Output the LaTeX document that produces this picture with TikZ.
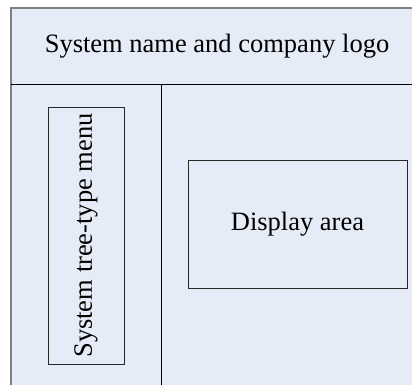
\documentclass[tikz,border=0pt]{standalone}
\usepackage{fontspec}
\setmainfont{LiberationSerif}[Extension=.ttf, UprightFont=*-Regular]
\definecolor{panelfill}{RGB}{230,236,247}
\definecolor{framegray}{RGB}{128,128,128}
\definecolor{boxline}{RGB}{40,40,40}
\begin{document}
\begin{tikzpicture}[x=1pt,y=1pt,
  lbl/.style={font=\rmfamily\fontsize{26.5}{30}\selectfont, inner sep=0pt},
  panelbox/.style={draw=boxline, line width=0.9pt, inner sep=0pt, lbl}]
\useasboundingbox (0,0) rectangle (412,-385);
\fill[panelfill] (11,-8) rectangle (412,-385);
\draw[framegray, line width=1.2pt] (412,-8) -- (11,-8) -- (11,-385);
\draw[black, line width=0.9pt] (11,-84) -- (412,-84);
\draw[black, line width=0.9pt] (161,-84) -- (161,-385);
\node[lbl] (title) at (217,-46) {System name and company logo};
\node[panelbox, rotate=90, minimum width=257pt, minimum height=76pt] (menu) at (86,-235.5) {System tree-type menu};
\node[panelbox, minimum width=219pt, minimum height=128pt] (display) at (297.5,-224) {Display area};
\end{tikzpicture}
\end{document}
